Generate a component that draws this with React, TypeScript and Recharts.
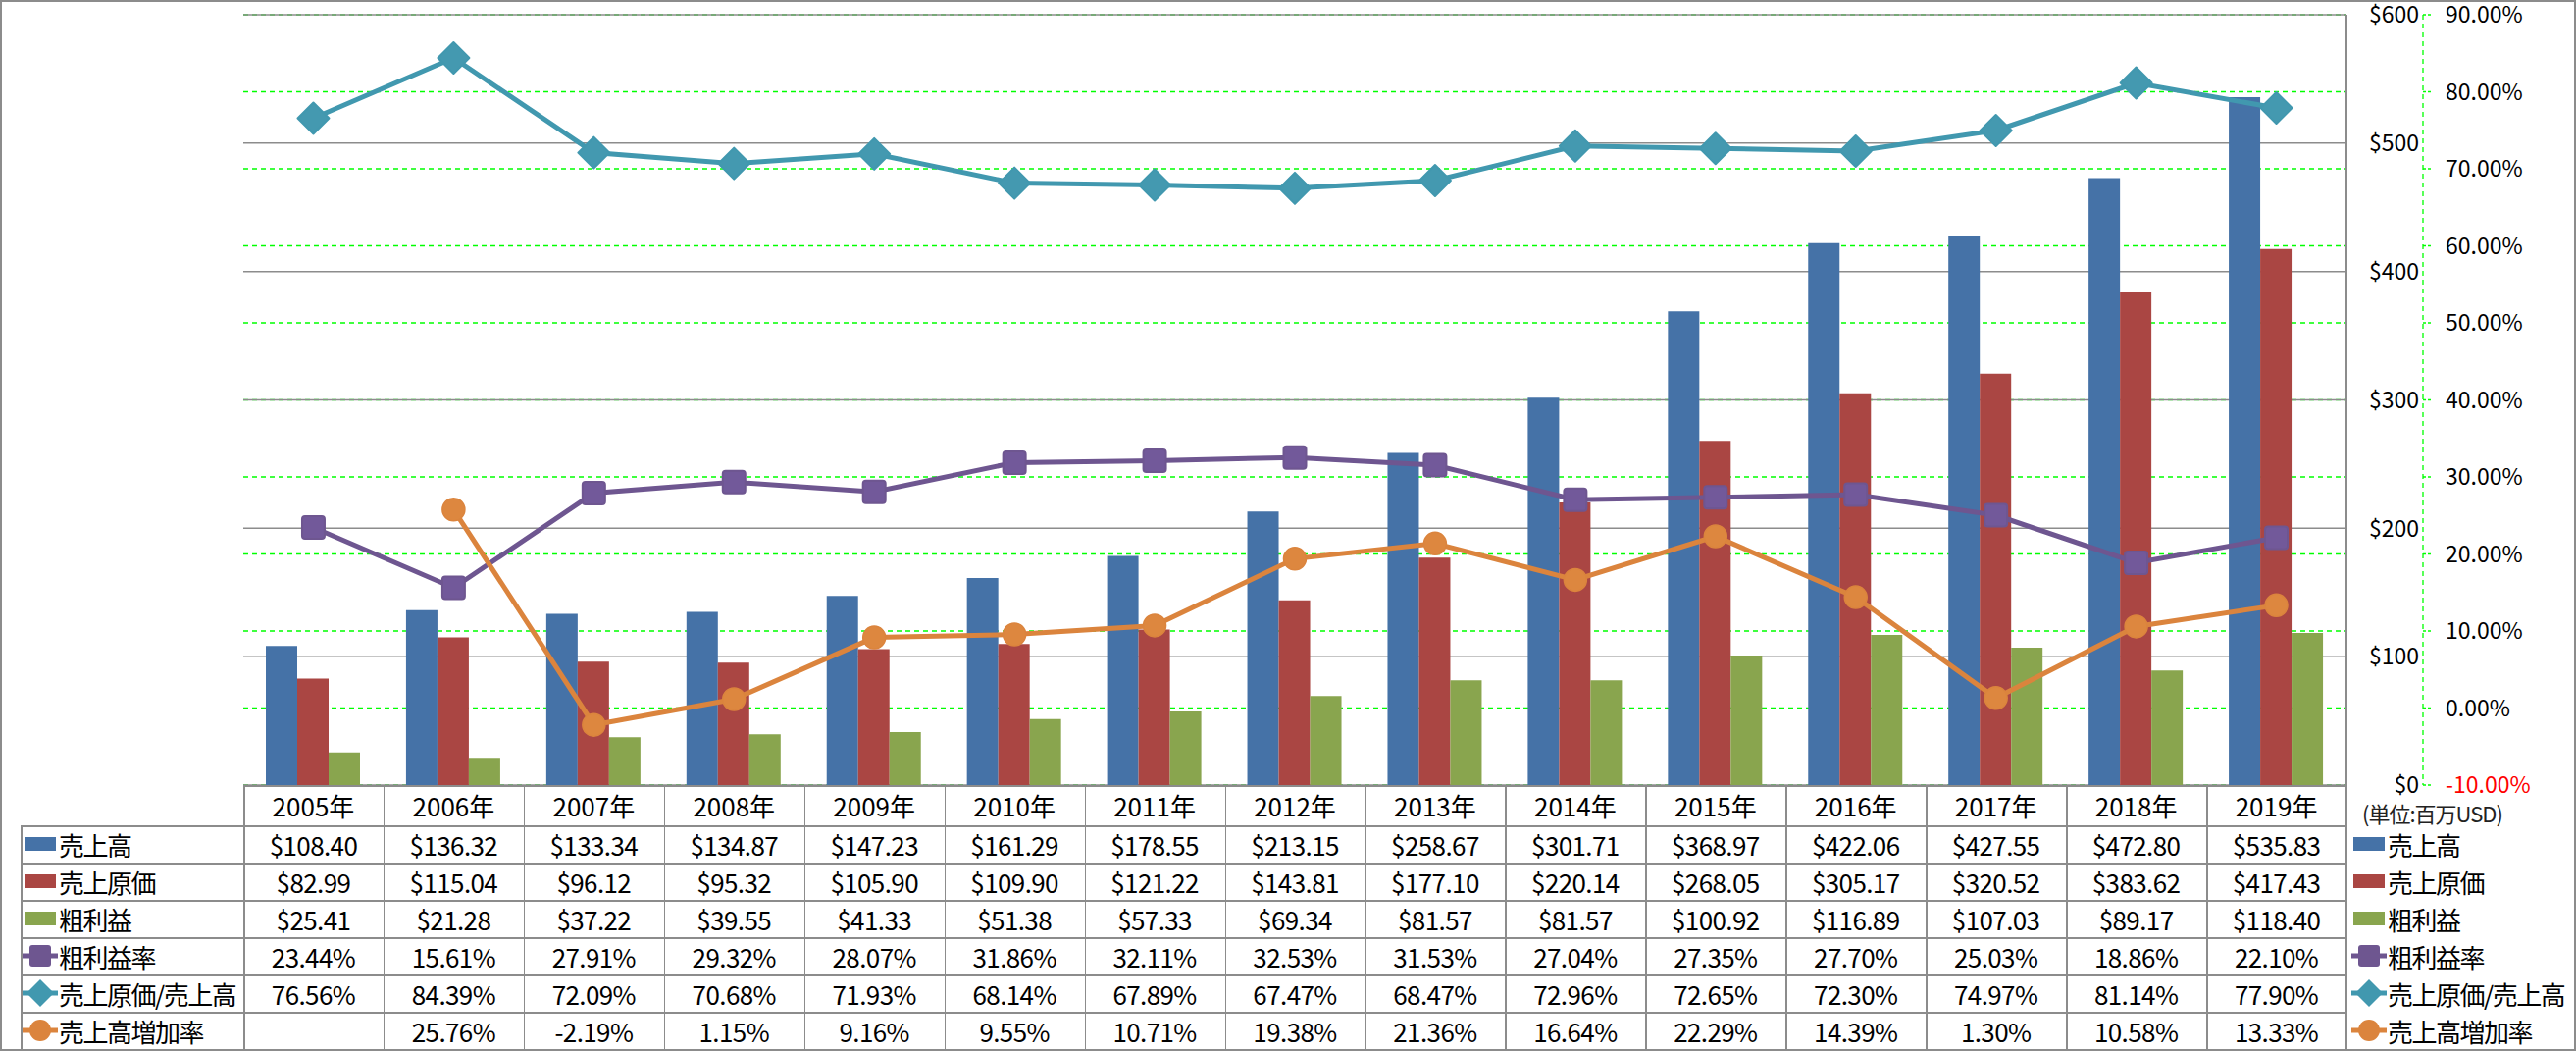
import React from "react";
import { ComposedChart, Bar, Line, XAxis, YAxis, CartesianGrid } from "recharts";

const years = [
  "2005年", "2006年", "2007年", "2008年", "2009年", "2010年", "2011年", "2012年",
  "2013年", "2014年", "2015年", "2016年", "2017年", "2018年", "2019年",
];
const sales = [108.4, 136.32, 133.34, 134.87, 147.23, 161.29, 178.55, 213.15, 258.67, 301.71, 368.97, 422.06, 427.55, 472.8, 535.83];
const cogs = [82.99, 115.04, 96.12, 95.32, 105.9, 109.9, 121.22, 143.81, 177.1, 220.14, 268.05, 305.17, 320.52, 383.62, 417.43];
const gross = [25.41, 21.28, 37.22, 39.55, 41.33, 51.38, 57.33, 69.34, 81.57, 81.57, 100.92, 116.89, 107.03, 89.17, 118.4];
const grossRate = [23.44, 15.61, 27.91, 29.32, 28.07, 31.86, 32.11, 32.53, 31.53, 27.04, 27.35, 27.7, 25.03, 18.86, 22.1];
const cogsRatio = [76.56, 84.39, 72.09, 70.68, 71.93, 68.14, 67.89, 67.47, 68.47, 72.96, 72.65, 72.3, 74.97, 81.14, 77.9];
const growth: (number | null)[] = [null, 25.76, -2.19, 1.15, 9.16, 9.55, 10.71, 19.38, 21.36, 16.64, 22.29, 14.39, 1.3, 10.58, 13.33];

const usdTicks = [0, 100, 200, 300, 400, 500, 600];
const pctTicks = [-10, 0, 10, 20, 30, 40, 50, 60, 70, 80, 90];

const C = {
  sales: "#4572A7",
  cogs: "#AA4643",
  gross: "#89A54E",
  rate: "#6E5690",
  ratio: "#4198AF",
  growth: "#DB843D",
};

const rows = years.map((y, i) => ({
  year: y,
  sales: sales[i],
  cogs: cogs[i],
  gross: gross[i],
  rate: grossRate[i],
  ratio: cogsRatio[i],
  growth: growth[i],
}));

const FONT = '"Noto Sans CJK JP", "Noto Sans", sans-serif';
const W = 2626;
const H = 1071;
const PL = 248;
const PR = 2392;
const PT = 15;
const PB = 800;
const colW = (PR - PL) / years.length;
const rowTops = [841, 879, 917, 955, 993, 1031, 1069];
const GRAY = "#8c8c8c";

const Square = (p: any) =>
  p.cx == null ? null : (
    <rect x={p.cx - 11.5} y={p.cy - 11.5} width={23} height={23} rx={3} fill="#72599A" stroke={C.rate} strokeWidth={2} />
  );
const Diamond = (p: any) =>
  p.cx == null ? null : (
    <polygon
      points={`${p.cx},${p.cy - 16} ${p.cx + 16},${p.cy} ${p.cx},${p.cy + 16} ${p.cx - 16},${p.cy}`}
      fill="#4499B0" stroke={C.ratio} strokeWidth={2} strokeLinejoin="round"
    />
  );
const Circle = (p: any) =>
  p.cx == null || p.value == null ? null : (
    <circle cx={p.cx} cy={p.cy} r={11.5} fill="#DD873F" stroke={C.growth} strokeWidth={1.5} />
  );

const UsdTick = (p: any) => (
  <text x={p.x + 74} y={p.y} dy="0.36em" textAnchor="end" fontSize={23} fontFamily={FONT} fill="#000">
    ${p.payload.value}
  </text>
);
const PctTick = (p: any) => (
  <text x={p.x} y={p.y} dy="0.36em" textAnchor="start" fontSize={23} fontFamily={FONT}
    fill={p.payload.value < 0 ? "#ff0000" : "#000"}>
    {p.payload.value.toFixed(2)}%
  </text>
);

function Icon({ kind }: { kind: string }) {
  if (kind === "bar-sales" || kind === "bar-cogs" || kind === "bar-gross") {
    const fill = kind === "bar-sales" ? C.sales : kind === "bar-cogs" ? C.cogs : C.gross;
    return (
      <svg width={36} height={20} style={{ display: "block", flex: "none" }}>
        <rect x={2} y={3} width={32} height={14} fill={fill} />
      </svg>
    );
  }
  const color = kind === "rate" ? C.rate : kind === "ratio" ? C.ratio : C.growth;
  return (
    <svg width={36} height={30} style={{ display: "block", flex: "none" }}>
      <line x1={0} y1={15} x2={36} y2={15} stroke={color} strokeWidth={5} />
      {kind === "rate" && <rect x={7} y={4} width={22} height={22} rx={3} fill={color} />}
      {kind === "ratio" && <polygon points="18,1 32,15 18,29 4,15" fill={color} />}
      {kind === "growth" && <circle cx={18} cy={15} r={11} fill={color} />}
    </svg>
  );
}

const money = (v: number) => "$" + v.toFixed(2);
const pct = (v: number | null) => (v == null ? "" : v.toFixed(2) + "%");

const tableRows = [
  { label: "売上高", kind: "bar-sales", cells: sales.map(money) },
  { label: "売上原価", kind: "bar-cogs", cells: cogs.map(money) },
  { label: "粗利益", kind: "bar-gross", cells: gross.map(money) },
  { label: "粗利益率", kind: "rate", cells: grossRate.map(pct) },
  { label: "売上原価/売上高", kind: "ratio", cells: cogsRatio.map(pct) },
  { label: "売上高増加率", kind: "growth", cells: growth.map(pct) },
];

const abs = (l: number, t: number, w: number, h: number, extra: any = {}) => ({
  position: "absolute" as const, left: l, top: t, width: w, height: h, ...extra,
});

export default function App() {
  return (
    <div style={{ position: "fixed", left: 0, top: 0, width: W, height: H, background: "#fff", fontFamily: FONT, color: "#000" }}>
      <ComposedChart width={W} height={H} data={rows} margin={{ top: PT, left: PL, right: 0, bottom: H - PB }} barGap={0}>
        <CartesianGrid yAxisId="b" vertical={false} stroke="#00ff00" strokeDasharray="5 4" strokeWidth={1.3} />
        <CartesianGrid yAxisId="a" vertical={false} stroke={GRAY} strokeWidth={1.5} />
        <XAxis dataKey="year" hide />
        <YAxis yAxisId="a" orientation="right" width={78} domain={[0, 600]} ticks={usdTicks}
          axisLine={false} tickLine={false} tickSize={0} tickMargin={0} tick={UsdTick} />
        <YAxis yAxisId="b" orientation="right" width={W - 2470} domain={[-10, 90]} ticks={pctTicks}
          axisLine={{ stroke: "#00ff00", strokeDasharray: "5 4", strokeWidth: 1.3 }}
          tickLine={{ stroke: "#00ff00", strokeDasharray: "3 2", strokeWidth: 1.3 }}
          tickSize={8} tickMargin={15} tick={PctTick} />
        <Bar yAxisId="a" dataKey="sales" fill={C.sales} barSize={32} isAnimationActive={false} />
        <Bar yAxisId="a" dataKey="cogs" fill={C.cogs} barSize={32} isAnimationActive={false} />
        <Bar yAxisId="a" dataKey="gross" fill={C.gross} barSize={32} isAnimationActive={false} />
        <Line yAxisId="b" dataKey="rate" stroke={C.rate} strokeWidth={5} dot={Square} activeDot={false} isAnimationActive={false} />
        <Line yAxisId="b" dataKey="ratio" stroke={C.ratio} strokeWidth={5} dot={Diamond} activeDot={false} isAnimationActive={false} />
        <Line yAxisId="b" dataKey="growth" stroke={C.growth} strokeWidth={5} dot={Circle} activeDot={false} isAnimationActive={false} />
      </ComposedChart>

      {/* plot right border */}
      <div style={abs(PR - 1, PT, 1.5, 1069 - PT, { background: GRAY })} />
      {/* table grid */}
      <div style={abs(PL, PB, PR - PL, 1.5, { background: GRAY })} />
      {rowTops.map((t) => (
        <div key={t} style={abs(21, t, PR - 21, 1.5, { background: GRAY })} />
      ))}
      <div style={abs(21, rowTops[0], 1.5, 1069 - rowTops[0], { background: GRAY })} />
      {years.map((_, i) => (
        <div key={i} style={abs(PL + i * colW, PB, 1.5, 1069 - PB, { background: GRAY })} />
      ))}
      {years.map((y, i) => (
        <div key={y} style={abs(PL + i * colW, PB, colW, rowTops[0] - PB, {
          display: "flex", alignItems: "center", justifyContent: "center", fontSize: 26 })}>{y}</div>
      ))}
      {tableRows.map((r, ri) => (
        <React.Fragment key={r.label}>
          <div style={abs(23, rowTops[ri], PL - 23, 38, { display: "flex", alignItems: "center", fontSize: 26, whiteSpace: "nowrap", letterSpacing: -1.5 })}>
            <Icon kind={r.kind} />
            <span style={{ marginLeft: 1 }}>{r.label}</span>
          </div>
          {r.cells.map((c, ci) => (
            <div key={ci} style={abs(PL + ci * colW, rowTops[ri], colW, 38, {
              display: "flex", alignItems: "center", justifyContent: "center", fontSize: 26, letterSpacing: -0.6 })}>{c}</div>
          ))}
          <div style={abs(2397, rowTops[ri], 228, 38, { display: "flex", alignItems: "center", fontSize: 26, whiteSpace: "nowrap", letterSpacing: -1.5 })}>
            <Icon kind={r.kind} />
            <span style={{ marginLeft: 1 }}>{r.label}</span>
          </div>
        </React.Fragment>
      ))}
      <div style={abs(2408, 812, 210, 30, { fontSize: 22, color: "#222", whiteSpace: "nowrap", letterSpacing: -1 })}>(単位:百万USD)</div>
      {/* outer frame */}
      <div style={abs(0, 0, W, H, { border: `2px solid ${GRAY}`, boxSizing: "border-box", pointerEvents: "none" })} />
    </div>
  );
}
